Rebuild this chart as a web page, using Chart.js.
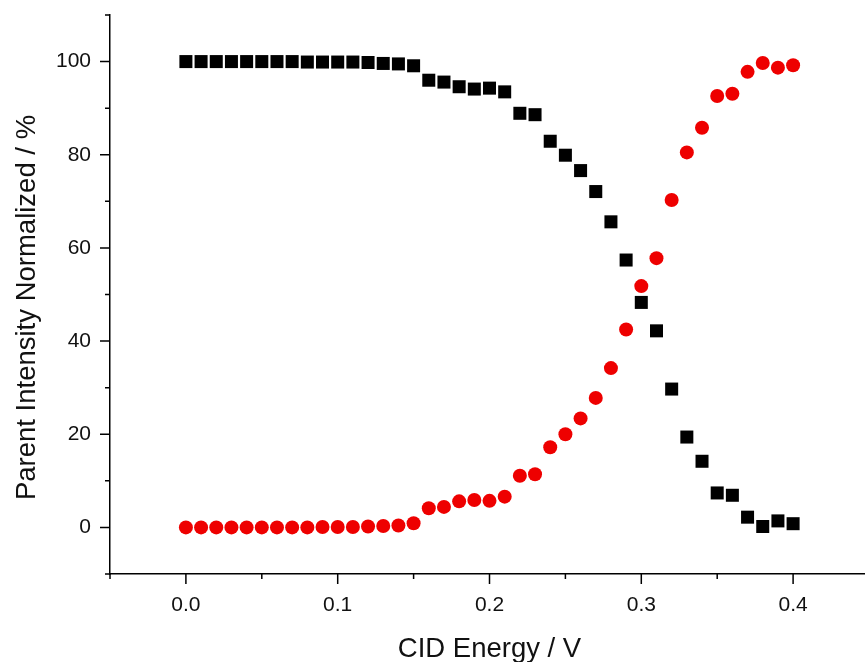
<!DOCTYPE html>
<html>
<head>
<meta charset="utf-8">
<script src="https://cdn.jsdelivr.net/npm/chart.js@4/dist/chart.umd.min.js"></script>
<style>
  html, body { margin:0; padding:0; background:#fff; overflow:hidden; }
  #wrap { width:865px; height:662px; overflow:hidden; }
  canvas { display:block; }
</style>
</head>
<body>
<div id="wrap"><canvas id="cidChart" width="869" height="662"></canvas></div>
<script>
/* ── data ── */
var energy = [0.00, 0.01, 0.02, 0.03, 0.04, 0.05, 0.06, 0.07, 0.08, 0.09,
              0.10, 0.11, 0.12, 0.13, 0.14, 0.15, 0.16, 0.17, 0.18, 0.19,
              0.20, 0.21, 0.22, 0.23, 0.24, 0.25, 0.26, 0.27, 0.28, 0.29,
              0.30, 0.31, 0.32, 0.33, 0.34, 0.35, 0.36, 0.37, 0.38, 0.39, 0.40];

var parentPct = [100, 100, 100, 100, 100, 100, 100, 100, 99.9, 99.9,
                 99.9, 99.9, 99.8, 99.6, 99.5, 99.1, 96.0, 95.6, 94.6, 94.1,
                 94.3, 93.5, 88.9, 88.6, 82.9, 79.9, 76.6, 72.1, 65.6, 57.4,
                 48.3, 42.2, 29.7, 19.4, 14.2, 7.4, 6.9, 2.2, 0.2, 1.4, 0.8];

var fragmentPct = [0, 0, 0, 0, 0, 0, 0, 0, 0, 0.1,
                   0.1, 0.1, 0.2, 0.3, 0.4, 0.9, 4.1, 4.4, 5.6, 5.9,
                   5.7, 6.6, 11.1, 11.4, 17.2, 20.0, 23.4, 27.8, 34.2, 42.5,
                   51.8, 57.8, 70.3, 80.5, 85.8, 92.6, 93.1, 97.8, 99.7, 98.7, 99.2];

var xTickValues  = [0, 0.1, 0.2, 0.3, 0.4];
var xMinorValues = [-0.05, 0.05, 0.15, 0.25, 0.35, 0.45];
var yTickValues  = [0, 20, 40, 60, 80, 100];
var yMinorValues = [-10, 10, 30, 50, 70, 90, 110];

var X_TITLE = 'CID Energy / V';
var Y_TITLE = 'Parent Intensity Normalized / %';

var INK = '#111';
var FONT = '"Liberation Sans", Arial, sans-serif';

function pairs(ys) {
  return energy.map(function(x, i) { return { x: x, y: ys[i] }; });
}

// drop the label overhang padding so the plot box sits where the figure has it
function noPad(s) {
  s.paddingTop = 0; s.paddingBottom = 0; s.paddingLeft = 0; s.paddingRight = 0;
}

/* ── outward tick marks (long majors, short minors) + y title ── */
var axisDecor = {
  id: 'axisDecor',
  afterDraw: function(chart) {
    var c = chart.ctx, xs = chart.scales.x, ys = chart.scales.y;
    var ax = ys.right, ay = xs.top;
    c.save();
    c.strokeStyle = '#000';
    c.lineWidth = 1.5;
    c.beginPath();
    xTickValues.forEach(function(v)  { var p = xs.getPixelForValue(v); c.moveTo(p, ay); c.lineTo(p, ay + 10); });
    xMinorValues.forEach(function(v) { var p = xs.getPixelForValue(v); c.moveTo(p, ay); c.lineTo(p, ay + 5); });
    yTickValues.forEach(function(v)  { var p = ys.getPixelForValue(v); c.moveTo(ax, p); c.lineTo(ax - 10, p); });
    yMinorValues.forEach(function(v) { var p = ys.getPixelForValue(v); c.moveTo(ax, p); c.lineTo(ax - 5, p); });
    c.stroke();

    // y title sits a little below the plot's middle in the figure
    c.translate(35, (ys.top + ys.bottom) / 2 + 13);
    c.rotate(-Math.PI / 2);
    c.fillStyle = INK;
    c.font = '27.5px ' + FONT;
    c.textAlign = 'center';
    c.textBaseline = 'alphabetic';
    c.fillText(Y_TITLE, 0, 0);
    c.restore();
  }
};

new Chart(document.getElementById('cidChart'), {
  type: 'scatter',
  data: {
    datasets: [
      { label: 'Parent', data: pairs(parentPct), pointStyle: 'rect', pointRadius: 9.2,
        backgroundColor: '#000', borderWidth: 0, pointHoverRadius: 9.2 },
      { label: 'Fragment', data: pairs(fragmentPct), pointStyle: 'circle', pointRadius: 7,
        backgroundColor: '#ee0000', borderWidth: 0, pointHoverRadius: 7 }
    ]
  },
  plugins: [axisDecor],
  options: {
    responsive: false,
    animation: false,
    layout: { autoPadding: false, padding: { top: 15, right: 0, bottom: 0, left: 0 } },
    plugins: { legend: { display: false }, tooltip: { enabled: false } },
    scales: {
      x: {
        type: 'linear', min: -0.05, max: 0.45,
        afterBuildTicks: function(s) { s.ticks = xTickValues.map(function(v) { return { value: v }; }); },
        afterFit: function(s) { s.height = 88; noPad(s); },
        grid: { display: false, drawTicks: false },
        border: { display: true, color: '#000', width: 1.5 },
        ticks: { color: INK, padding: 19, font: { family: FONT, size: 21 },
                 callback: function(v) { return Number(v).toFixed(1); } },
        title: { display: true, text: X_TITLE, color: INK,
                 font: { family: FONT, size: 27.5 }, padding: { top: 0, bottom: -4 } }
      },
      y: {
        type: 'linear', min: -10, max: 110,
        afterBuildTicks: function(s) { s.ticks = yTickValues.map(function(v) { return { value: v }; }); },
        afterFit: function(s) { s.width = 110; noPad(s); },
        grid: { display: false, drawTicks: false },
        border: { display: true, color: '#000', width: 1.5 },
        ticks: { color: INK, padding: 19, font: { family: FONT, size: 21 } }
      }
    }
  }
});
</script>
</body>
</html>
